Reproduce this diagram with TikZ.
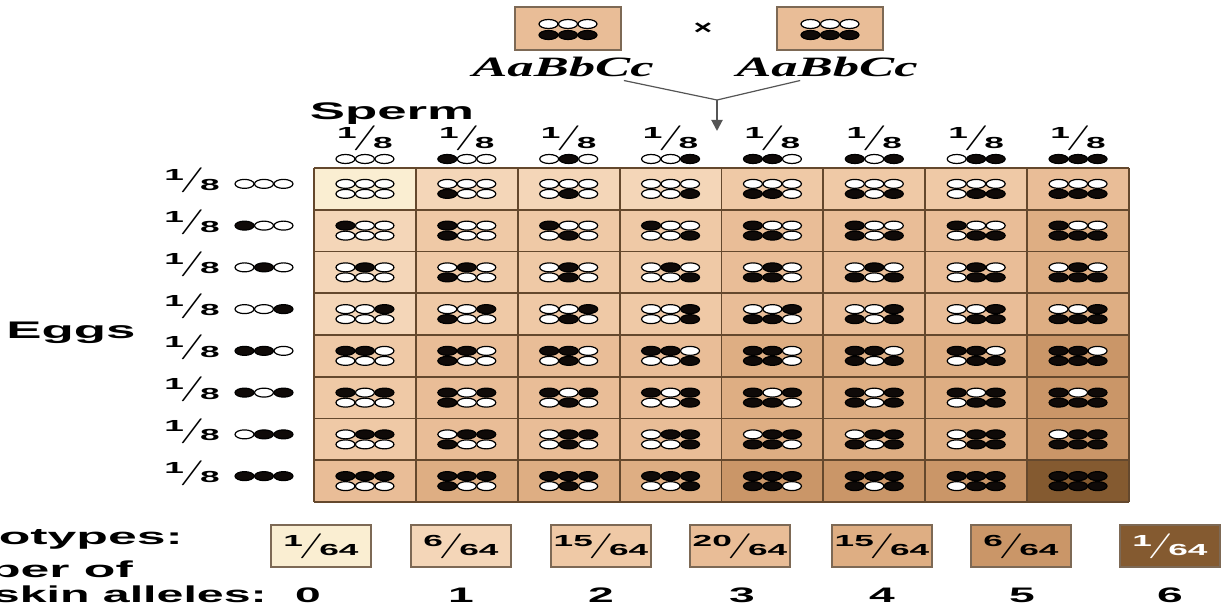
\documentclass[tikz,border=0pt]{standalone}
\usepackage{fontspec}
\setmainfont{Liberation Sans}
\newfontfamily\timesfont{Liberation Serif}
\usetikzlibrary{arrows.meta}

\definecolor{sk0}{RGB}{250,238,210}
\definecolor{sk1}{RGB}{244,214,184}
\definecolor{sk2}{RGB}{239,201,166}
\definecolor{sk3}{RGB}{233,189,151}
\definecolor{sk4}{RGB}{222,174,131}
\definecolor{sk5}{RGB}{202,150,104}
\definecolor{sk6}{RGB}{132,90,48}
\definecolor{al0}{RGB}{255,255,255}
\definecolor{al1}{RGB}{15,10,8}
\definecolor{celledge}{RGB}{100,72,45}
\definecolor{boxedge}{RGB}{125,105,85}
\definecolor{arrowgray}{RGB}{85,85,85}

\newcommand{\wider}[1]{\scalebox{2.2}[1]{#1}}
\newcommand{\fr}[2]{\wider{\raisebox{11pt}{\fontsize{16}{16}\selectfont\bfseries #1}\kern-2pt\raisebox{5pt}{\fontsize{26}{26}\selectfont$/$}\kern-2pt\raisebox{1.5pt}{\fontsize{16}{16}\selectfont\bfseries #2}}}

\begin{document}
\begin{tikzpicture}[x=1pt, y=-1pt,
  allele/.style={draw=black, line width=1.2pt},
  gridline/.style={draw=celledge, line width=1.8pt},
  parbox/.style={draw=boxedge, fill=sk3, line width=1.5pt, minimum width=106pt, minimum height=43pt, inner sep=0pt},
  phen/.style={draw=boxedge, line width=1.5pt, minimum width=100pt, minimum height=42pt, inner sep=0pt},
  lab/.style={font=\bfseries\fontsize{21}{21}\selectfont, inner sep=0pt},
  side/.style={font=\bfseries\fontsize{23}{23}\selectfont, inner sep=0pt, anchor=base east},
  head/.style={font=\bfseries\fontsize{24}{24}\selectfont, inner sep=0pt, anchor=base},
  parent/.style={font=\timesfont\bfseries\itshape\fontsize{28}{28}\selectfont, inner sep=0pt, anchor=base},
  link/.style={draw=arrowgray, line width=1.2pt}]

\useasboundingbox (0,0) rectangle (1232,609);

\def\cw{101.875}
\def\ch{41.75}
\def\gx{314}
\def\gy{168}

% three alleles in a row, centred at (#1,#2)
\def\gam#1#2#3#4#5{%
  \foreach \k/\v in {-1/#3,0/#4,1/#5}
    \filldraw[allele, fill=al\v] (#1+19.5*\k, #2) ellipse [x radius=9.5, y radius=4.5];
}

% parents
\node[parbox] (boxA) at (568,28.5) {};
\node[parbox] (boxB) at (830,28.5) {};
\gam{568}{24}{0}{0}{0}
\gam{568}{35}{1}{1}{1}
\gam{830}{24}{0}{0}{0}
\gam{830}{35}{1}{1}{1}
\node[font=\bfseries\fontsize{20}{20}\selectfont] (cross) at (703,29) {\scalebox{1.6}[1]{×}};
\node[parent] (pA) at (563,77) {\scalebox{1.88}[1]{AaBbCc}};
\node[parent] (pB) at (827,77) {\scalebox{1.88}[1]{AaBbCc}};
\coordinate (join) at (717,100);
\coordinate (tip) at (717,131);
\draw[link] ([shift={(-30,3)}]pA.south east) -- (join);
\draw[link] ([shift={(64,3)}]pB.south west) -- (join);
\draw[link, line width=2pt, -{Triangle[length=11pt, width=11pt]}] (join) -- (tip);

\node[head] (sperm) at (392,120) {\wider{Sperm}};
\node[head] (eggs) at (71,339) {\wider{Eggs}};

% punnett square
\foreach \ra/\rb/\rc [count=\r] in {0/0/0,1/0/0,0/1/0,0/0/1,1/1/0,1/0/1,0/1/1,1/1/1}{
  \foreach \sa/\sb/\sc [count=\s] in {0/0/0,1/0/0,0/1/0,0/0/1,1/1/0,1/0/1,0/1/1,1/1/1}{
    \pgfmathtruncatemacro\dk{\ra+\rb+\rc+\sa+\sb+\sc}
    \fill[sk\dk] (\gx+\cw*\s-\cw, \gy+\ch*\r-\ch) rectangle ++(\cw,\ch);
    \gam{\gx+\cw*\s-\cw/2}{\gy+\ch*\r-\ch/2-5}{\ra}{\rb}{\rc}
    \gam{\gx+\cw*\s-\cw/2}{\gy+\ch*\r-\ch/2+5}{\sa}{\sb}{\sc}
  }
}
\foreach \i in {0,...,8}{
  \draw[gridline] (\gx+\cw*\i, \gy) -- ++(0, 8*\ch);
  \draw[gridline] (\gx, \gy+\ch*\i) -- ++(8*\cw, 0);
}

% gametes
\foreach \a/\b/\c [count=\i] in {0/0/0,1/0/0,0/1/0,0/0/1,1/1/0,1/0/1,0/1/1,1/1/1}{
  \node[lab, anchor=base] (sp\i) at (\gx+\cw*\i-\cw/2, 150) {\fr{1}{8}};
  \gam{\gx+\cw*\i-\cw/2}{159}{\a}{\b}{\c}
  \node[lab, anchor=base] (eg\i) at (192, \gy+\ch*\i-\ch/2+3) {\fr{1}{8}};
  \gam{264}{\gy+\ch*\i-\ch/2-5}{\a}{\b}{\c}
}

% phenotypes
\node[side] (phenolab) at (183,544) {\scalebox{2.25}[1]{Phenotypes:}};
\node[side] (numlab) at (133,577) {\scalebox{2.25}[1]{Number of}};
\node[side] (alllab) at (267,602) {\scalebox{2.1}[1]{dark-skin alleles:}};
\foreach \numr/\denr/\px/\nx/\tc [count=\i from 0] in {1/64/321/308/black, 6/64/461/461/black, 15/64/601/601/black, 20/64/740/742/black, 15/64/882/882/black, 6/64/1021/1022/black, 1/64/1170/1170/white}{
  \node[phen, fill=sk\i, text=\tc] (ph\i) at (\px,546) {\fr{\numr}{\denr}};
  \node[lab, anchor=base] (nd\i) at (\nx,602) {\wider{\i}};
}

\end{tikzpicture}
\end{document}
